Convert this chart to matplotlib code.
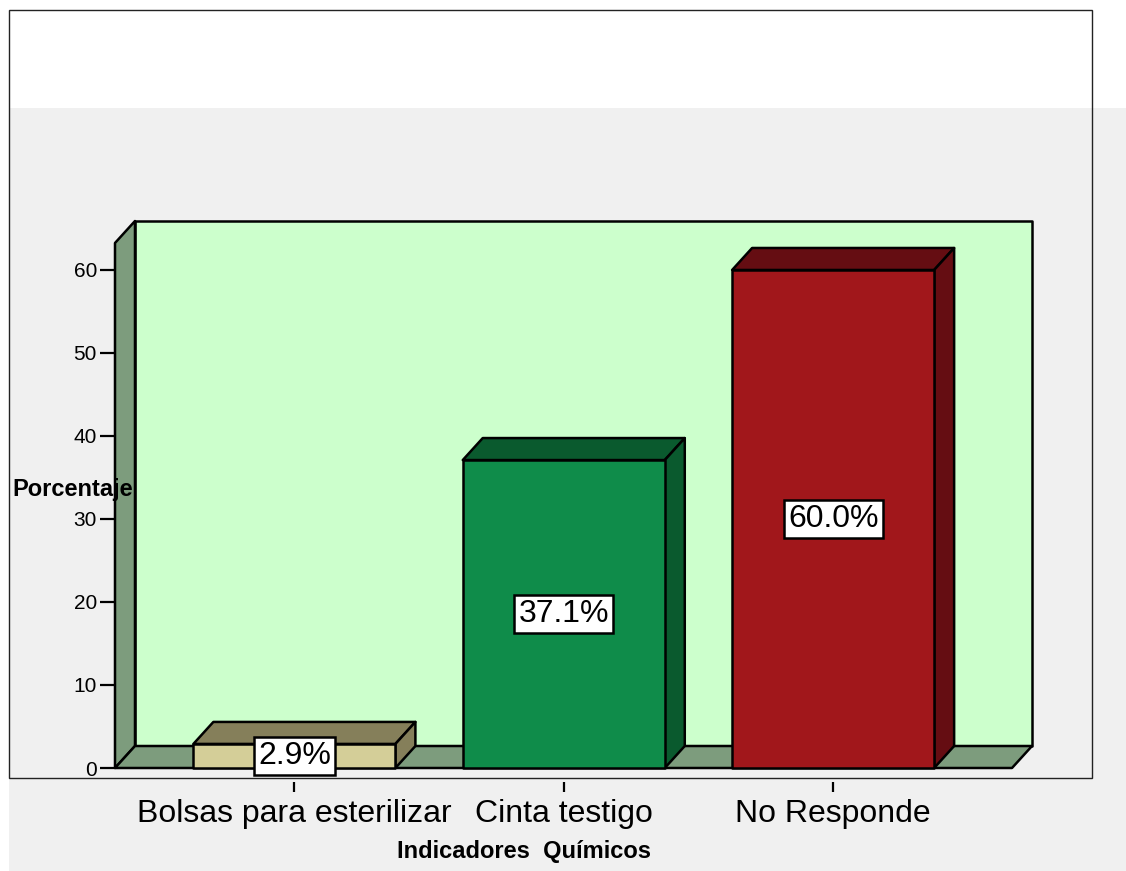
import matplotlib
matplotlib.use("Agg")
from matplotlib import pyplot as plt
from matplotlib.patches import Polygon, Rectangle

plt.rcParams['font.family'] = ['Liberation Sans', 'DejaVu Sans']

# data
categories = ["Bolsas para esterilizar", "Cinta testigo", "No Responde"]
values = [2.9, 37.1, 60.0]
labels = ["2.9%", "37.1%", "60.0%"]
yticks = [0, 10, 20, 30, 40, 50, 60]

# colours (front face, top/side face)
front_colors = ["#D4CE98", "#0F8C4A", "#A1171B"]
side_colors = ["#857F5A", "#0A5A2E", "#650D12"]
wall_color = "#CCFFCC"
side_wall = "#7D9C7D"

W, H = 1126, 871
fig = plt.figure(figsize=(W / 100, H / 100), dpi=100)
fig.patch.set_facecolor("white")

# grey background + frame
fig.add_artist(Rectangle((9 / W, 0), 1 - 9 / W, (H - 108) / H, transform=fig.transFigure,
                         facecolor="#F0F0F0", edgecolor="none", zorder=-5))
fig.add_artist(Rectangle((9 / W, (H - 778) / H), (1092 - 9) / W, (778 - 10) / H,
                         transform=fig.transFigure, facecolor="none", edgecolor="#222222",
                         linewidth=1.0, zorder=-4))

ax = fig.add_axes([115 / W, (H - 768) / H, (1012 - 115) / W, (768 - 243) / H])
ax.set_facecolor("none")
x0, x1 = -0.666, 2.664
ymax = 63.25
ax.set_xlim(x0, x1)
ax.set_ylim(0, ymax)
for s in ax.spines.values():
    s.set_visible(False)

# depth of the 3d effect in data units
dx = 20 / 269.5
dy = 22 / 8.3
bw = 0.75
lw = 1.8

def poly(pts, fc, z):
    ax.add_patch(Polygon(pts, closed=True, facecolor=fc, edgecolor="black",
                         linewidth=lw, joinstyle="round", clip_on=False, zorder=z))

# walls and floor
poly([(x0 + dx, dy), (x1 + dx, dy), (x1 + dx, ymax + dy), (x0 + dx, ymax + dy)], wall_color, 1)
poly([(x0, 0), (x0 + dx, dy), (x0 + dx, ymax + dy), (x0, ymax)], side_wall, 2)
poly([(x0, 0), (x1, 0), (x1 + dx, dy), (x0 + dx, dy)], side_wall, 2)

# bars
for i, v in enumerate(values):
    l, r = i - bw / 2, i + bw / 2
    poly([(l, v), (r, v), (r + dx, v + dy), (l + dx, v + dy)], side_colors[i], 3)
    poly([(r, 0), (r + dx, dy), (r + dx, v + dy), (r, v)], side_colors[i], 3)
    poly([(l, 0), (r, 0), (r, v), (l, v)], front_colors[i], 4)
    ax.text(i, v / 2, labels[i], ha="center", va="center", fontsize=23, zorder=6,
            bbox=dict(boxstyle="square,pad=0.13", facecolor="white", edgecolor="black", linewidth=1.8))

ax.set_yticks(yticks)
ax.set_yticklabels([str(t) for t in yticks], fontsize=15)
ax.tick_params(axis="y", direction="out", length=11, width=1.6, pad=2)

ax.spines['bottom'].set_position(('outward', 10))
ax.set_xticks(range(len(categories)))
ax.set_xticklabels(categories, fontsize=23)
ax.tick_params(axis="x", direction="out", length=7.5, width=1.6, pad=5)

fig.text(12 / W, (H - 489) / H, "Porcentaje", fontsize=17, fontweight="bold", ha="left", va="center")
fig.text(524 / W, (H - 851) / H, "Indicadores  Químicos", fontsize=17, fontweight="bold", ha="center", va="center")

fig.savefig("out.png", dpi=100)
